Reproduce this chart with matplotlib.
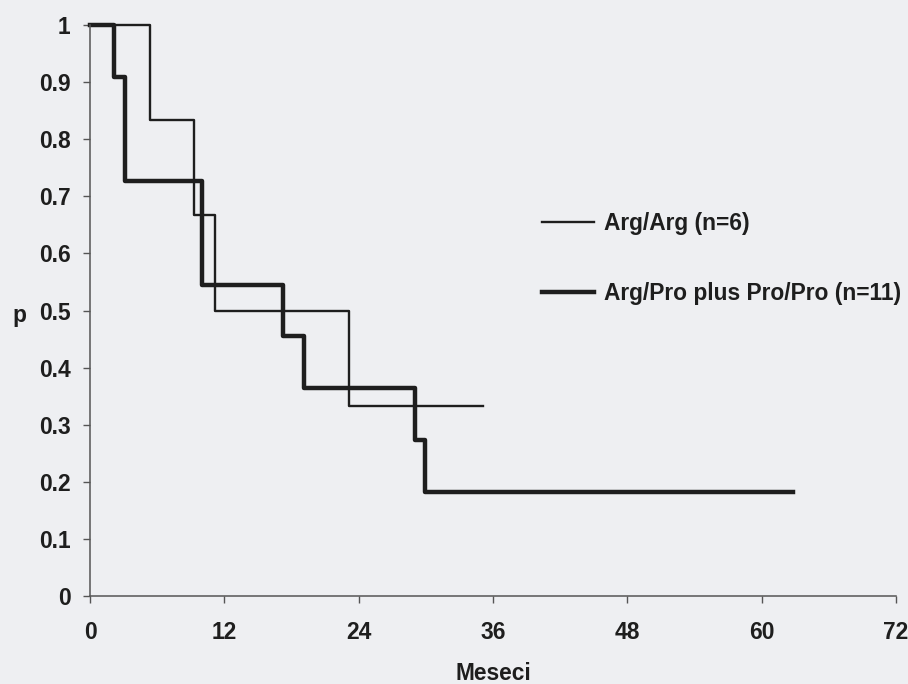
import matplotlib
matplotlib.use("Agg")
import matplotlib.pyplot as plt
import numpy as np

# Kaplan-Meier step data (months, survival proportion)
arg_arg_t = [0, 5.4, 9.3, 11.2, 23.1, 35.1]
arg_arg_p = [1.0, 0.833, 0.667, 0.5, 0.333, 0.333]

arg_pro_t = [0, 2.1, 3.1, 10.0, 17.2, 19.1, 29.0, 29.9, 62.8]
arg_pro_p = [1.0, 0.909, 0.727, 0.545, 0.455, 0.364, 0.273, 0.182, 0.182]

x_ticks = [0, 12, 24, 36, 48, 60, 72]
y_ticks = [0, 0.1, 0.2, 0.3, 0.4, 0.5, 0.6, 0.7, 0.8, 0.9, 1]
y_labels = ['0', '0.1', '0.2', '0.3', '0.4', '0.5', '0.6', '0.7', '0.8', '0.9', '1']

labels = ['Arg/Arg (n=6)', 'Arg/Pro plus Pro/Pro (n=11)']

plt.rcParams['font.family'] = ['Liberation Sans', 'DejaVu Sans']
plt.rcParams['font.weight'] = 'bold'

bg = '#eeeff2'
ink = '#1e1e1e'
fs = 16.4

fig = plt.figure(figsize=(9.08, 6.84), dpi=100, facecolor=bg)
ax = fig.add_axes([90 / 908, 88 / 684, (896 - 90) / 908, (596 - 25) / 684])
ax.set_facecolor(bg)

ax.step(arg_arg_t, arg_arg_p, where='post', color=ink, lw=1.7,
        clip_on=False, label=labels[0])
ax.step(arg_pro_t, arg_pro_p, where='post', color=ink, lw=3.2,
        clip_on=False, label=labels[1])

ax.set_xlim(0, 72)
ax.set_ylim(0, 1)
ax.set_xticks(x_ticks)
ax.set_yticks(y_ticks)
ax.set_yticklabels(y_labels)

for side in ['top', 'right']:
    ax.spines[side].set_visible(False)
for side in ['left', 'bottom']:
    ax.spines[side].set_color('#555555')
    ax.spines[side].set_linewidth(1.1)

ax.tick_params(axis='both', colors='#555555', labelcolor=ink,
               labelsize=fs, length=5, width=1.0)
ax.tick_params(axis='y', pad=9)
ax.tick_params(axis='x', pad=13)

ax.set_xlabel('Meseci', fontsize=fs, fontweight='bold', color=ink, labelpad=13)
ax.set_ylabel('p', fontsize=fs, fontweight='bold', color=ink,
              rotation=0, ha='center', va='center')
ax.yaxis.set_label_coords(-0.088, 0.492)

ax.legend(loc='upper left', bbox_to_anchor=(542 / 908, 1 - 212 / 684),
          bbox_transform=fig.transFigure, frameon=False, fontsize=fs,
          handlelength=2.3, handletextpad=0.4, labelspacing=2.05,
          borderpad=0, borderaxespad=0, labelcolor=ink)

fig.savefig('out.png', dpi=100, facecolor=bg)
